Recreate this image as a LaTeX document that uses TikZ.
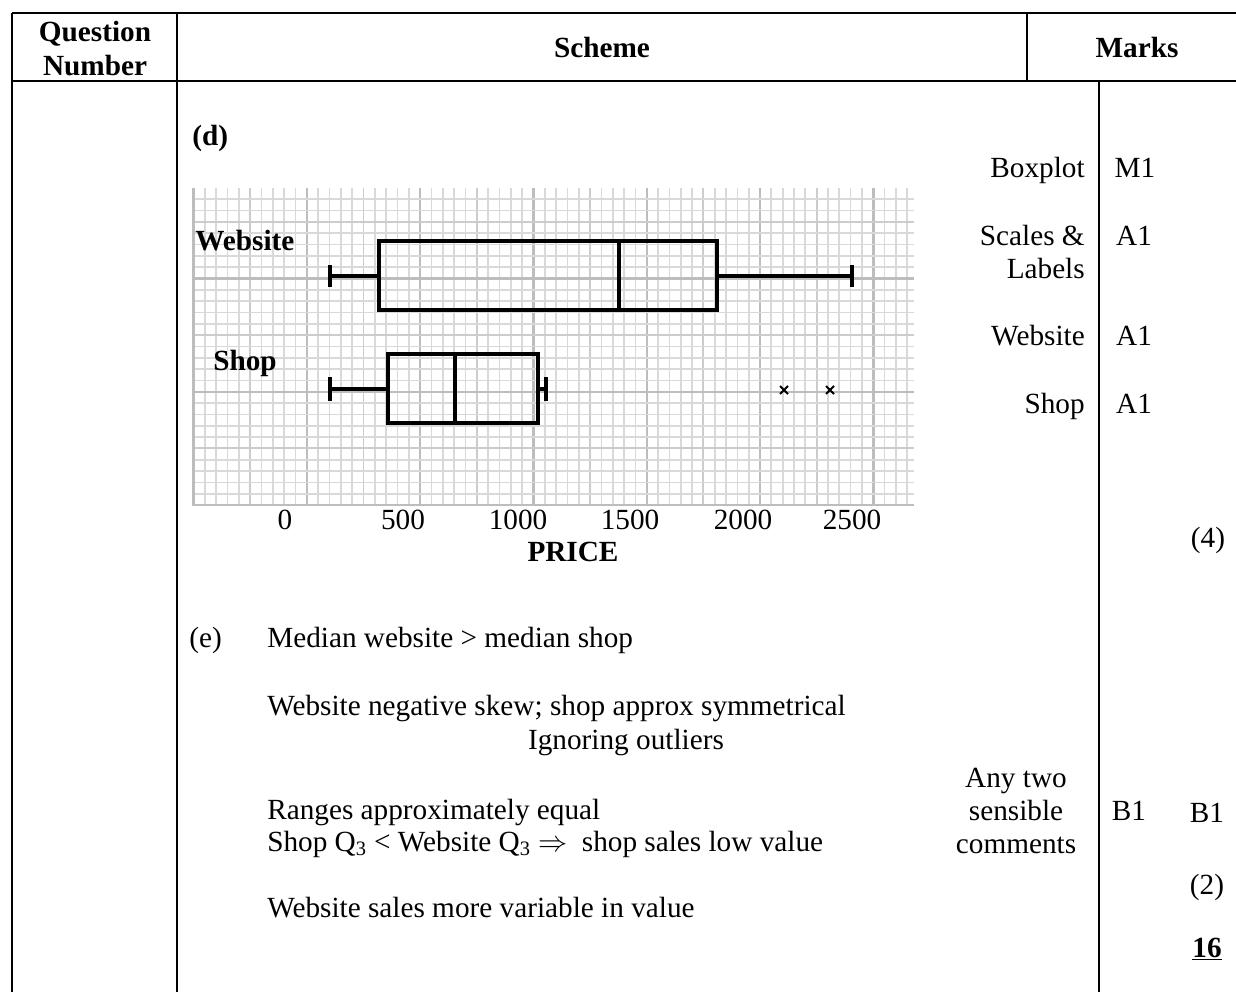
\documentclass[tikz,border=0pt]{standalone}
\usepackage{fontspec}
\setmainfont{Liberation Serif}
\usetikzlibrary{positioning}

\begin{document}
\begin{tikzpicture}[
			x=0.025cm, y=-0.025cm,
			every node/.style={inner sep=0pt, font={\fontsize{20.8}{24}\selectfont}},
			txt/.style={anchor=base west},
			ctxt/.style={anchor=base},
			rtxt/.style={anchor=base east},
			head/.style={anchor=base, font={\fontsize{20.8}{24.1}\selectfont\bfseries}, align=center},
			lbl/.style={anchor=base west, font={\fontsize{20.8}{24}\selectfont\bfseries}},
			rule/.style={line width=1.6pt},
			minor/.style={gray!30, line width=1.2pt},
			medium/.style={gray!40, line width=1.3pt},
			major/.style={gray!52, line width=1.7pt},
			boxline/.style={line width=2.3pt},
			outlier/.style={line width=1.4pt}
	]
	\useasboundingbox (0,0) rectangle (1236,992);
% >> table
	\draw[rule] (12,13) -- (1236,13);
	\draw[rule] (12,81) -- (1236,81);
	\draw[rule] (12,13) -- (12,992);
	\draw[rule] (177,13) -- (177,992);
	\draw[rule] (1027,13) -- (1027,81);
	\draw[rule] (1099,81) -- (1099,992);
	\node[head] (qnum) at (95,75) {Question\\Number};
	\node[head] (scheme) at (602,58) {Scheme};
	\node[head] (marks) at (1137,58) {Marks};

% >> part d
	\node[lbl] (partd) at (192,145) {(d)};

	% graph paper
	\foreach \k in {0,...,63}{
		\pgfmathsetmacro{\xx}{193.5+11.33*\k}
		\pgfmathtruncatemacro{\m}{mod(\k,10)}
		\pgfmathtruncatemacro{\h}{mod(\k,5)}
		\ifnum\m=0 \draw[major] (\xx,188) -- (\xx,505);
		\else\ifnum\h=0 \draw[medium] (\xx,188) -- (\xx,505);
		\else \draw[minor] (\xx,188) -- (\xx,505); \fi\fi
	}
	\foreach \k in {0,...,27}{
		\pgfmathsetmacro{\yy}{505-11.33*\k}
		\pgfmathtruncatemacro{\m}{mod(\k,10)}
		\pgfmathtruncatemacro{\h}{mod(\k,5)}
		\ifnum\m=0 \draw[major] (193.5,\yy) -- (914,\yy);
		\else\ifnum\h=0 \draw[medium] (193.5,\yy) -- (914,\yy);
		\else \draw[minor] (193.5,\yy) -- (914,\yy); \fi\fi
	}
	\draw[major] (193.5,188) -- (193.5,505) -- (914,505);

	% website
	\node[lbl] (web) at (195,250) {Website};
	\draw[boxline] (330,265) -- (330,287);
	\draw[boxline] (330,276) -- (379,276);
	\draw[boxline] (379,241) rectangle (717,310);
	\draw[boxline] (619,241) -- (619,310);
	\draw[boxline] (717,276) -- (852,276);
	\draw[boxline] (852,265) -- (852,287);

	% shop
	\node[lbl] (shop) at (213,370) {Shop};
	\draw[boxline] (330,377) -- (330,401);
	\draw[boxline] (330,389) -- (388,389);
	\draw[boxline] (388,354) rectangle (538,423);
	\draw[boxline] (455,354) -- (455,423);
	\draw[boxline] (538,389) -- (546,389);
	\draw[boxline] (546,377) -- (546,401);
	\foreach \ox in {784,830}{
		\draw[outlier] (\ox-4,386) -- (\ox+4,394);
		\draw[outlier] (\ox-4,394) -- (\ox+4,386);
	}

	% scale
	\foreach \v/\xv in {0/285,500/403,1000/518,1500/630,2000/743,2500/852}
		\node[ctxt] (tick\v) at (\xv,529) {\v};
	\node[head] (price) at (573,561) {PRICE};

	% marks d
	\node[rtxt] (c1) at (1085,177) {Boxplot};
	\node[rtxt] (c2) at (1085,245) {Scales \&};
	\node[rtxt] (c2b) at (1085,278) {Labels};
	\node[rtxt] (c3) at (1085,345) {Website};
	\node[rtxt] (c4) at (1085,413) {Shop};
	\node[ctxt] (m1) at (1135,177) {M1};
	\node[ctxt] (m2) at (1134,245) {A1};
	\node[ctxt] (m3) at (1134,345) {A1};
	\node[ctxt] (m4) at (1134,413) {A1};
	\node[ctxt] (tot4) at (1208,547) {(4)};

% >> part e
	\node[txt] (parte) at (189,647) {(e)};
	\node[txt] (e1) at (267,647) {Median website > median shop};
	\node[txt] (e2) at (267,715) {Website negative skew; shop approx symmetrical};
	\node[ctxt] (e2b) at (626,749) {Ignoring outliers};
	\node[txt, align=left, font={\fontsize{20.8}{22.7}\selectfont}] (e3) at (267,851)
		{Ranges approximately equal\\Shop Q\textsubscript{3} < Website Q\textsubscript{3} $\Rightarrow$\ \ shop sales low value};
	\node[txt] (e5) at (267,917) {Website sales more variable in value};

	\node[ctxt, align=center, font={\fontsize{20.8}{23.4}\selectfont}] (any) at (1016,853) {Any two\\sensible\\comments};
	\node[ctxt] (b1a) at (1129,820) {B1};
	\node[ctxt] (b1b) at (1207,822) {B1};
	\node[ctxt] (tot2) at (1207,894) {(2)};
	\node[ctxt] (total) at (1207,957) {\underline{\textbf{16}}};
\end{tikzpicture}
\end{document}
